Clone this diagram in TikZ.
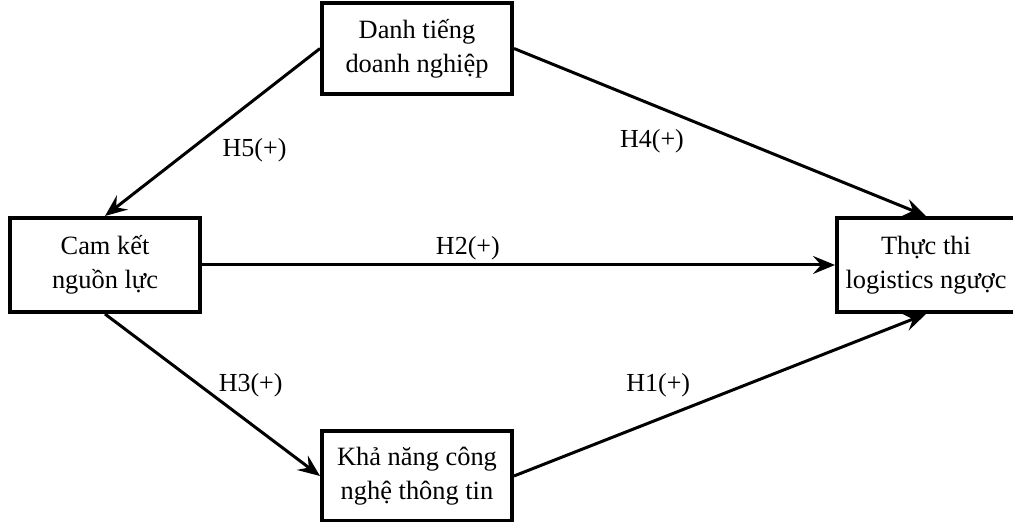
\documentclass[tikz,border=0pt]{standalone}
\usepackage{fontspec}
\setmainfont{Liberation Serif}
\usetikzlibrary{arrows.meta,positioning}

\begin{document}
\begin{tikzpicture}[
  box/.style={draw, line width=2pt, align=center,
              minimum width=95pt, minimum height=46pt,
              font=\fontsize{13.2pt}{17pt}\selectfont},
  hyp/.style={font=\fontsize{13pt}{16pt}\selectfont},
  arrow/.style={-{Stealth[length=11pt, width=9pt, inset=4pt]}, line width=1.5pt}
]
\useasboundingbox (0,0) rectangle (506.5pt,-261pt);
\node[box, minimum height=47pt] (cam) at (52.5pt,-132.5pt) {Cam kết\\nguồn lực};
\node[box, right=316.5pt of cam, minimum width=89pt, minimum height=47pt] (thuc) {Thực thi\\logistics ngược};
\node[box, above right=60pt and 59pt of cam, minimum height=45.5pt] (danh) {Danh tiếng\\doanh nghiệp};
\node[box, below right=57.5pt and 59pt of cam, minimum height=45pt] (kha) {Khả năng công\\nghệ thông tin};
\draw[arrow] (danh.west) -- node[hyp, pos=0.607, right=12.5pt] {H5(+)} (cam.north);
\draw[arrow] (danh.east) -- node[hyp, pos=0.335, below=8.5pt] {H4(+)} (thuc.north);
\draw[arrow] (cam.east)  -- node[hyp, pos=0.42, above=-1.5pt] {H2(+)} (thuc.west);
\draw[arrow] (cam.south) -- node[hyp, pos=0.44, right=5.5pt] {H3(+)} (kha.west);
\draw[arrow] (kha.east)  -- node[hyp, pos=0.35, above=7pt] {H1(+)} (thuc.south);
\end{tikzpicture}
\end{document}
